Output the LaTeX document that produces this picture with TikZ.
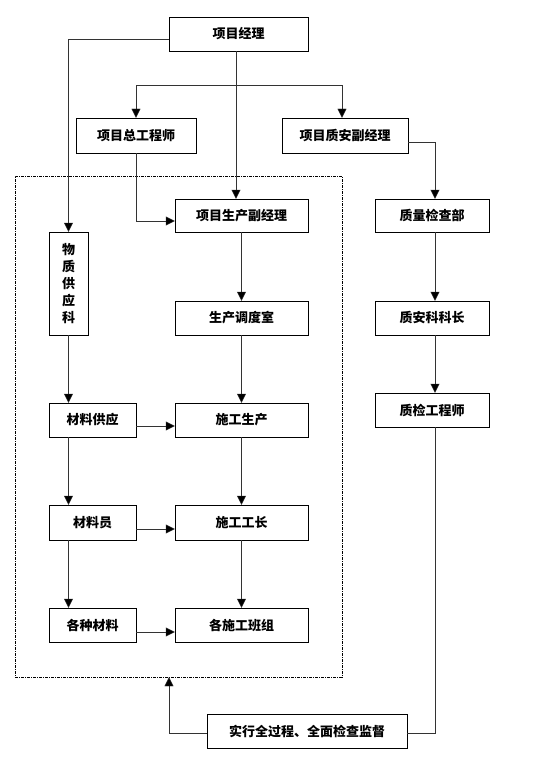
\documentclass[tikz,border=0pt]{standalone}
\usepackage{fontspec}
\usepackage{tikz}
\usetikzlibrary{arrows.meta}
\newfontfamily\cjk{Noto Sans CJK SC}

\begin{document}
\begin{tikzpicture}[x=1pt,y=-1pt,
		box/.style={draw,thin,font=\cjk\bfseries\fontsize{13}{16}\selectfont,inner sep=0pt},
		arr/.style={draw=black!80,-{Triangle[width=9pt,length=9pt,fill=black]}},
		ln/.style={draw=black!80}]
		\useasboundingbox (0,0) rectangle (554,765);
	
		\node[draw,dash pattern=on 3pt off 1pt on 1pt off 1pt,minimum width=327pt,minimum height=501pt] (frame) at (178.5,426.5) {};
	
		\node[box,minimum width=139pt,minimum height=34pt] (pm) at (238.5,34) {项目经理};
		\node[box,minimum width=120pt,minimum height=35pt] (chief) at (136,135.5) {项目总工程师};
		\node[box,minimum width=126pt,minimum height=35pt] (qadep) at (345,135.5) {项目质安副经理};
		\node[box,minimum width=133pt,minimum height=33pt] (prodep) at (241.5,215.5) {项目生产副经理};
		\node[box,minimum width=114pt,minimum height=33pt] (qcdept) at (432,215.5) {质量检查部};
		\node[box,minimum width=39pt,minimum height=103pt,align=center,font=\cjk\bfseries\fontsize{13}{17}\selectfont] (supply) at (68.5,283.5) {物\\质\\供\\应\\科};
		\node[box,minimum width=133pt,minimum height=34pt] (dispatch) at (241.5,318) {生产调度室};
		\node[box,minimum width=114pt,minimum height=34pt] (qahead) at (432,318) {质安科科长};
		\node[box,minimum width=87pt,minimum height=34pt] (matsup) at (92.5,420) {材料供应};
		\node[box,minimum width=133pt,minimum height=34pt] (constr) at (241.5,420) {施工生产};
		\node[box,minimum width=114pt,minimum height=34pt] (qceng) at (432,410) {质检工程师};
		\node[box,minimum width=87pt,minimum height=35pt] (matclerk) at (92.5,522.5) {材料员};
		\node[box,minimum width=133pt,minimum height=35pt] (foreman) at (241.5,522.5) {施工工长};
		\node[box,minimum width=87pt,minimum height=34pt] (mats) at (92.5,625) {各种材料};
		\node[box,minimum width=133pt,minimum height=34pt] (crews) at (241.5,625) {各施工班组};
		\node[box,minimum width=200pt,minimum height=34pt] (superv) at (307,731) {实行全过程、全面检查监督};
	
		% top level
		\coordinate (split) at (236,85);
		\draw[arr] ([yshift=-5pt]pm.west) -| (supply.north);
		\draw[arr] (pm.south -| split) -- (prodep.north -| split);
		\draw[ln] (pm.south -| split) -- (split);
		\draw[arr] (split) -| (chief.north);
		\draw[arr] (split) -| ([xshift=-3pt]qadep.north);
		\draw[arr] (chief.south) |- ([yshift=-5.5pt]prodep.west);
		\draw[arr] ([yshift=-6.5pt]qadep.east) -| ([xshift=3pt]qcdept.north);
	
		% production column
		\draw[arr] (prodep) -- (dispatch);
		\draw[arr] (dispatch) -- (constr);
		\draw[arr] (constr) -- (foreman);
		\draw[arr] (foreman) -- (crews);
	
		% material column
		\draw[arr] (supply) -- (matsup.north -| supply);
		\draw[arr] (matsup.south -| supply) -- (matclerk.north -| supply);
		\draw[arr] (matclerk.south -| supply) -- (mats.north -| supply);
		\draw[arr] ([yshift=-6pt]matsup.east) -- ([yshift=-6pt]constr.west);
		\draw[arr] ([yshift=-6.5pt]matclerk.east) -- ([yshift=-6.5pt]foreman.west);
		\draw[arr] ([yshift=-7pt]mats.east) -- ([yshift=-7pt]crews.west);
	
		% quality column
		\draw[arr] ([xshift=3pt]qcdept.south) -- ([xshift=3pt]qahead.north);
		\draw[arr] ([xshift=3pt]qahead.south) -- ([xshift=3pt]qceng.north);
		\draw[ln] ([xshift=3pt]qceng.south) |- ([yshift=-2pt]superv.east);
		\draw[arr] ([yshift=-2pt]superv.west) -| ([xshift=-9.5pt]frame.south);
	
	\end{tikzpicture}
\end{document}
